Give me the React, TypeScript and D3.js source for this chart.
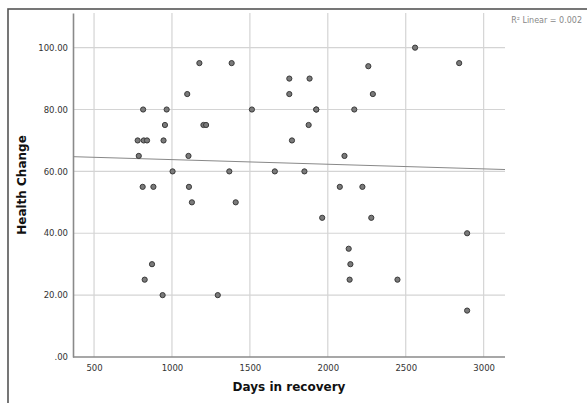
import React, { useRef, useEffect } from 'react';
import * as d3 from 'd3';

// Days in recovery / Health Change pairs
const days = [
  1176, 1383, 1098, 815, 966, 1513, 955, 1202, 1219, 780,
  819, 840, 946, 787, 1106, 1004, 1368, 812, 881, 1109,
  1128, 1409, 872, 825, 940, 1294, 2260, 1753, 1883, 1753,
  2289, 1926, 1926, 2170, 1877, 1770, 2107, 1660, 1850, 2077,
  2222, 1964, 2279, 2134, 2145, 2140, 2560, 2843, 2894, 2447, 2894,
];
const health = [
  95, 95, 85, 80, 80, 80, 75, 75, 75, 70,
  70, 70, 70, 65, 65, 60, 60, 55, 55, 55,
  50, 50, 30, 25, 20, 20, 94, 90, 90, 85,
  85, 80, 80, 80, 75, 70, 65, 60, 60, 55,
  55, 45, 45, 35, 30, 25, 100, 95, 40, 25, 15,
];
const xTicks = [500, 1000, 1500, 2000, 2500, 3000];
const yTicks = [0, 20, 40, 60, 80, 100];
const rSquaredLabel = 'R\u00b2 Linear = 0.002';

const App = () => {
  const ref = useRef<SVGSVGElement | null>(null);

  useEffect(() => {
    if (!ref.current) return;
    const svg = d3.select(ref.current);
    svg.selectAll('*').remove();

    const width = 587;
    const height = 403;
    const m = { left: 73, right: 505, top: 13, bottom: 357 };

    const x = d3.scaleLinear().domain([365, 3137]).range([m.left, m.right]);
    const y = d3.scaleLinear().domain([0, 111.2]).range([m.bottom, m.top]);

    // outer frame
    svg.append('rect')
      .attr('x', 8).attr('y', 9)
      .attr('width', width).attr('height', height)
      .attr('fill', 'white')
      .attr('stroke', '#555')
      .attr('stroke-width', 1.6);

    // grid
    svg.append('g').selectAll('line')
      .data(xTicks)
      .join('line')
      .attr('x1', d => x(d)).attr('x2', d => x(d))
      .attr('y1', m.top).attr('y2', m.bottom)
      .attr('stroke', '#d4d4d4').attr('stroke-width', 1.2);

    svg.append('g').selectAll('line')
      .data(yTicks.filter(d => d > 0))
      .join('line')
      .attr('x1', m.left).attr('x2', m.right)
      .attr('y1', d => y(d)).attr('y2', d => y(d))
      .attr('stroke', '#d4d4d4').attr('stroke-width', 1.2);

    // axes
    const xAxis = d3.axisBottom(x).tickValues(xTicks).tickSize(0).tickPadding(8)
      .tickFormat(d => String(d));
    const gx = svg.append('g').attr('transform', `translate(0,${m.bottom})`).call(xAxis);
    const yAxis = d3.axisLeft(y).tickValues(yTicks).tickSize(0).tickPadding(5)
      .tickFormat(d => (+d === 0 ? '.00' : d3.format('.2f')(+d)));
    const gy = svg.append('g').attr('transform', `translate(${m.left},0)`).call(yAxis);

    [gx, gy].forEach(g => {
      g.select('.domain').attr('stroke', '#8a8a8a').attr('stroke-width', 1.6);
      g.selectAll('text')
        .attr('fill', '#333')
        .style('font-family', '"DejaVu Sans", sans-serif')
        .style('font-size', '8.5px');
    });
    gx.select('.domain').attr('d', `M${m.left},0H${m.right}`);

    // regression line (least squares fit of the points)
    const mx = d3.mean(days) as number;
    const my = d3.mean(health) as number;
    const sxy = d3.sum(days, (d, i) => (d - mx) * (health[i] - my));
    const sxx = d3.sum(days, d => (d - mx) ** 2);
    const slope = sxy / sxx;
    const fit = (d: number) => my + slope * (d - mx);
    const xd = x.domain();
    svg.append('line')
      .attr('x1', x(xd[0])).attr('y1', y(fit(xd[0])))
      .attr('x2', x(xd[1])).attr('y2', y(fit(xd[1])))
      .attr('stroke', '#888').attr('stroke-width', 1);

    // points
    svg.append('g').selectAll('circle')
      .data(days.map((d, i) => [d, health[i]]))
      .join('circle')
      .attr('cx', d => x(d[0]))
      .attr('cy', d => y(d[1]))
      .attr('r', 2.6)
      .attr('fill', '#7a7a7a')
      .attr('stroke', '#3a3a3a')
      .attr('stroke-width', 1);

    // titles
    svg.append('text')
      .attr('x', (m.left + m.right) / 2).attr('y', 391)
      .attr('text-anchor', 'middle')
      .style('font-family', '"DejaVu Sans", sans-serif')
      .style('font-size', '12px').style('font-weight', 'bold')
      .attr('fill', '#111')
      .text('Days in recovery');

    svg.append('text')
      .attr('transform', `translate(26,${(m.top + m.bottom) / 2}) rotate(-90)`)
      .attr('text-anchor', 'middle')
      .style('font-family', '"DejaVu Sans", sans-serif')
      .style('font-size', '12px').style('font-weight', 'bold')
      .attr('fill', '#111')
      .text('Health Change');

    svg.append('text')
      .attr('x', 582).attr('y', 23)
      .attr('text-anchor', 'end')
      .style('font-family', '"DejaVu Sans", sans-serif')
      .style('font-size', '8px')
      .attr('fill', '#888')
      .text(rSquaredLabel);
  }, []);

  return (
    <svg
      ref={ref}
      width={587}
      height={403}
      style={{ position: 'absolute', left: 0, top: 0, display: 'block' }}
    />
  );
};

export default App;
